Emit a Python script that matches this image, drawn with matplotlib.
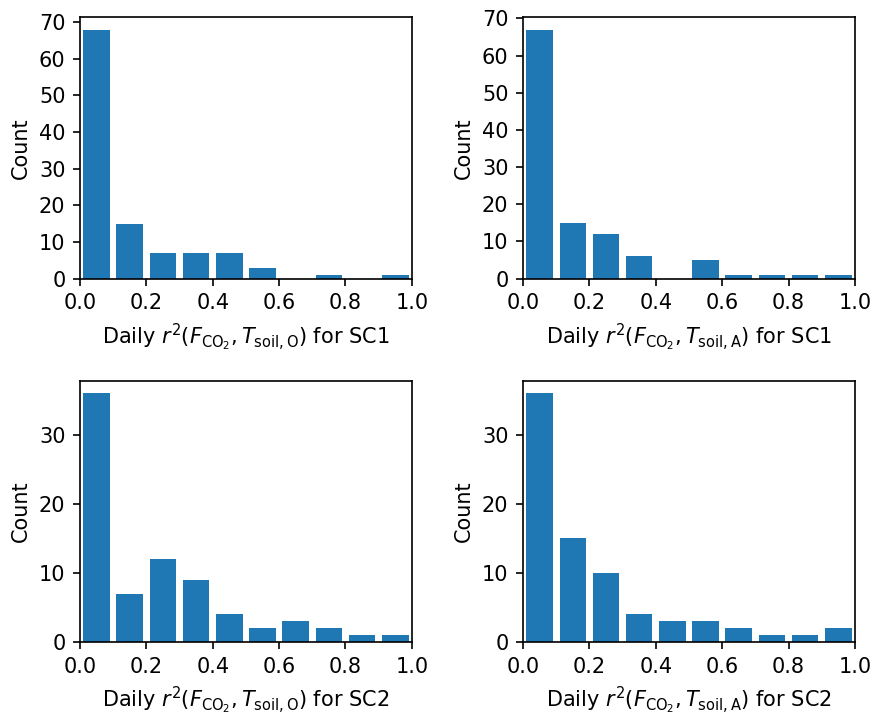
import numpy as np
from matplotlib import pyplot as plt

bin_edges = np.linspace(0, 1, 11)
bin_mids = (bin_edges[:-1] + bin_edges[1:]) / 2

counts_sc1_o = [68, 15, 7, 7, 7, 3, 0, 1, 0, 1]
counts_sc1_a = [67, 15, 12, 6, 0, 5, 1, 1, 1, 1]
counts_sc2_o = [36, 7, 12, 9, 4, 2, 3, 2, 1, 1]
counts_sc2_a = [36, 15, 10, 4, 3, 3, 2, 1, 1, 2]

labels = [
    r"Daily $r^2(F_{\mathrm{CO_2}}, T_{\mathrm{soil,O}})$ for SC1",
    r"Daily $r^2(F_{\mathrm{CO_2}}, T_{\mathrm{soil,A}})$ for SC1",
    r"Daily $r^2(F_{\mathrm{CO_2}}, T_{\mathrm{soil,O}})$ for SC2",
    r"Daily $r^2(F_{\mathrm{CO_2}}, T_{\mathrm{soil,A}})$ for SC2",
]

fig, axes = plt.subplots(2, 2, figsize=(875 / 150, 713 / 150), dpi=150)
fig.subplots_adjust(left=0.0914, right=0.977, bottom=0.0995, top=0.976,
                    wspace=0.335, hspace=0.39)

all_counts = [counts_sc1_o, counts_sc1_a, counts_sc2_o, counts_sc2_a]
for i, (ax, counts, label) in enumerate(zip(axes.flat, all_counts, labels)):
    ax.hist(bin_mids, bins=bin_edges, weights=counts, rwidth=0.8, color="#1f77b4")
    ax.set_xlim(0, 1)
    if i < 2:
        ax.set_yticks(range(0, 80, 10))
    ax.set_xlabel(label)
    ax.set_ylabel("Count")

plt.savefig("out.png", dpi=150)
